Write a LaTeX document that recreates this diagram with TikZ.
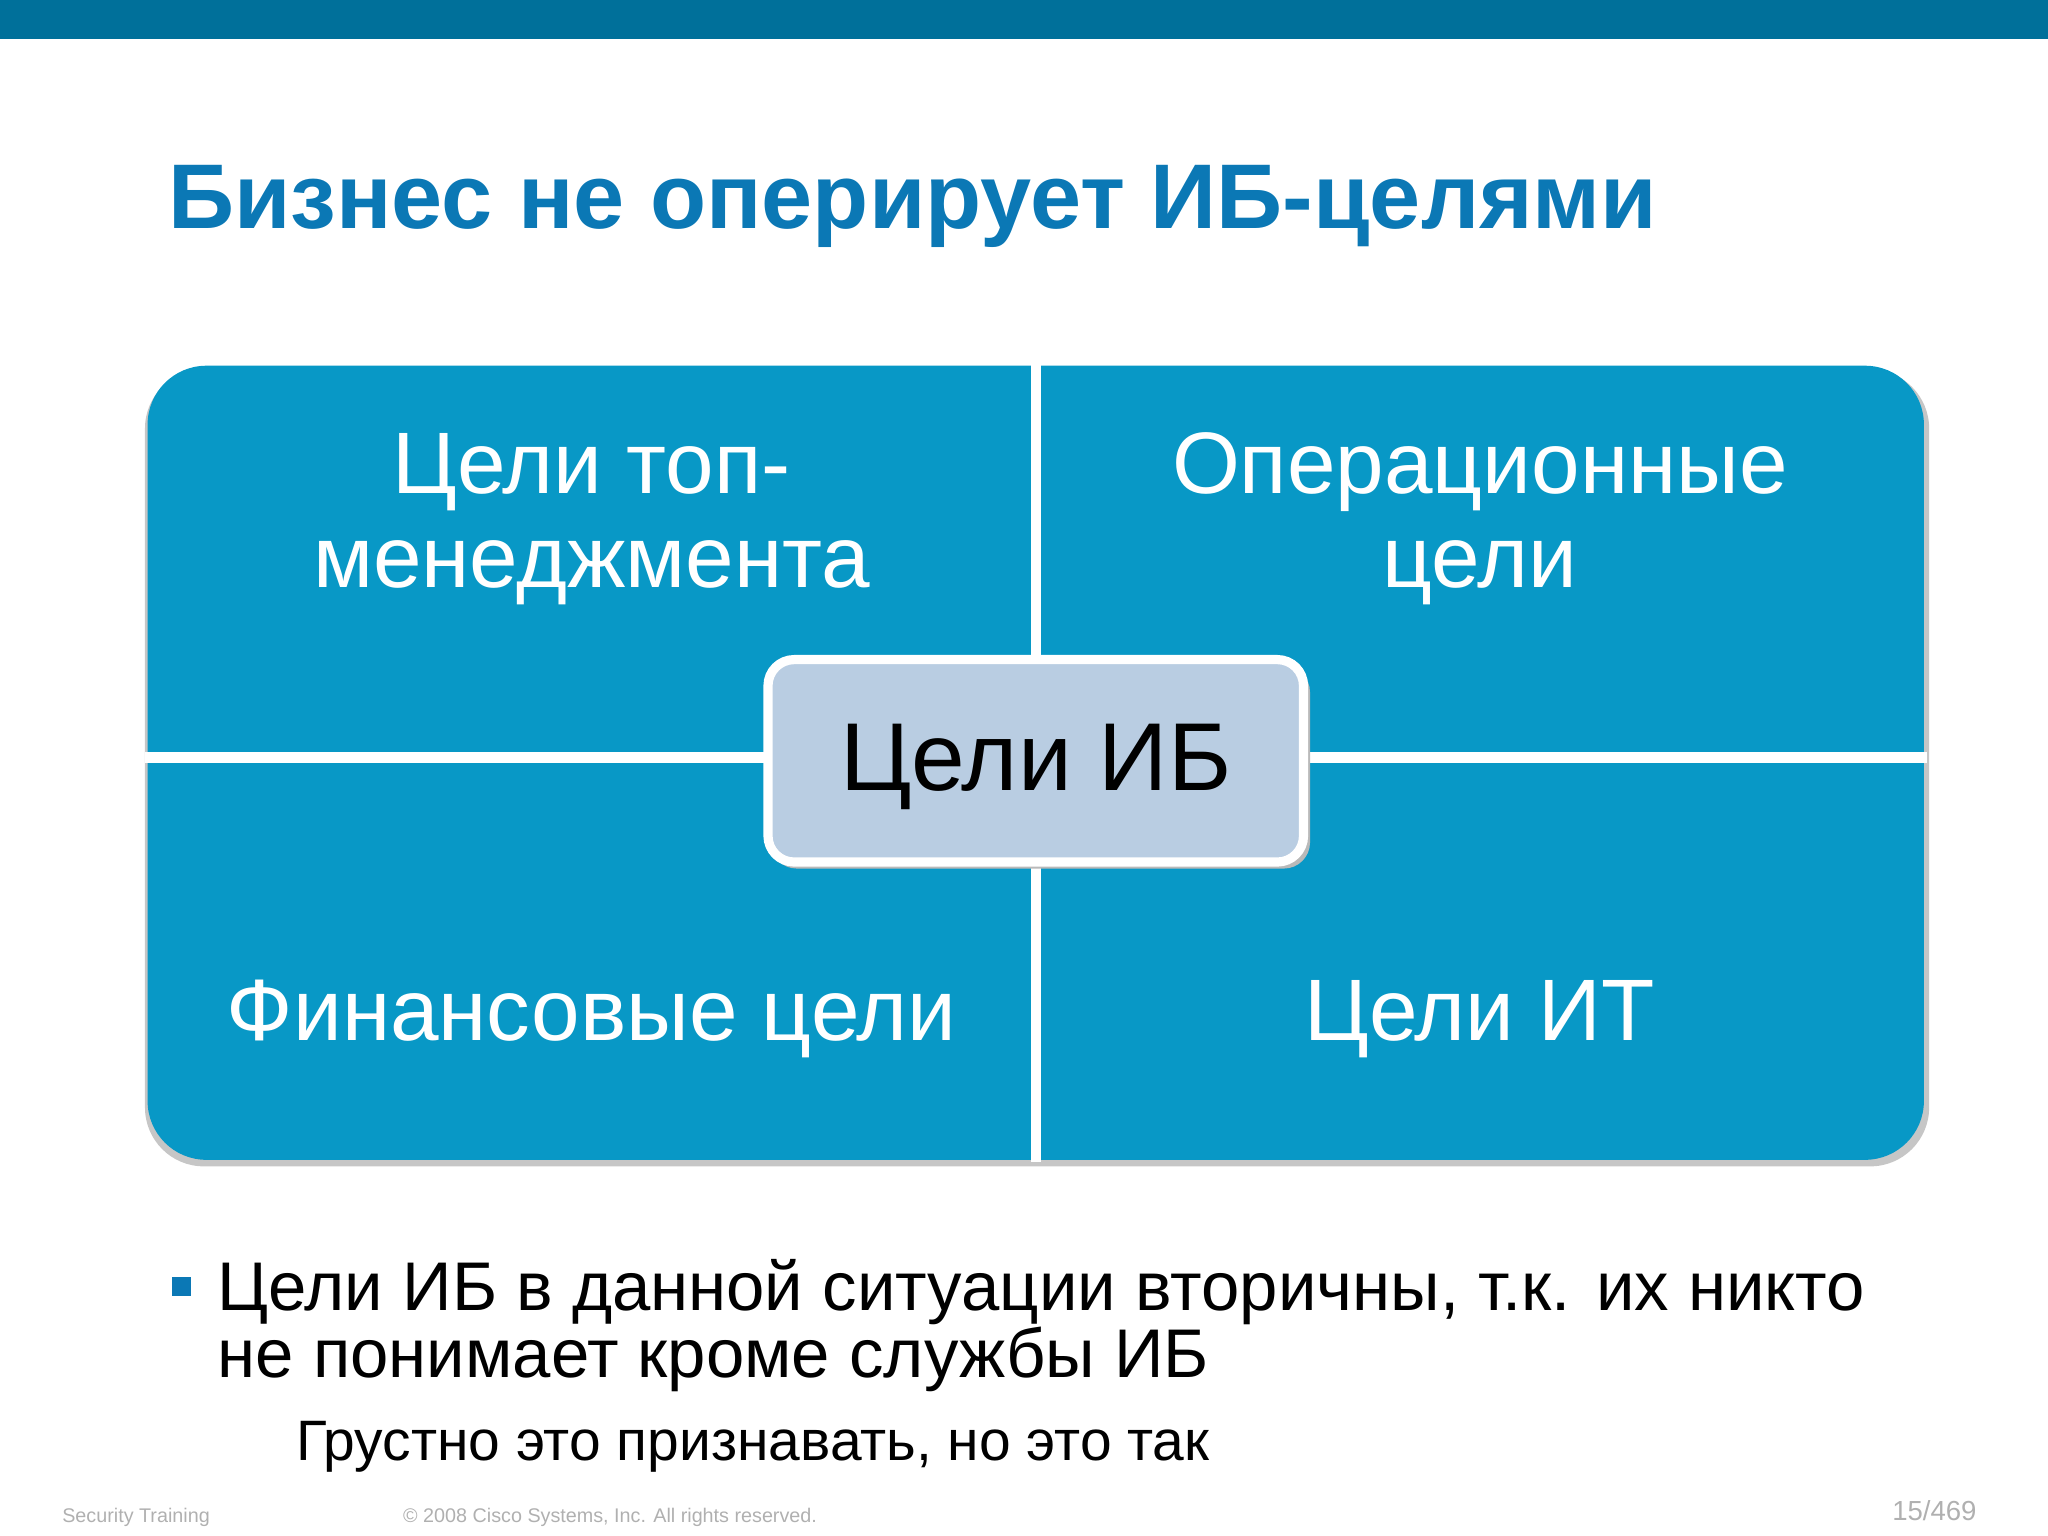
\documentclass[tikz,border=0pt]{standalone}
\usepackage{fontspec}
\setmainfont{Liberation Sans}
\definecolor{topbar}{HTML}{00709A}
\definecolor{titleblue}{HTML}{0B78B5}
\definecolor{quad}{HTML}{0898C6}
\definecolor{cbox}{HTML}{B9CDE2}
\definecolor{foot}{HTML}{B0B0B0}
\tikzset{qtext/.style={text=white,font=\fontsize{19pt}{21pt}\selectfont,align=center},
btext/.style={anchor=base west,inner sep=0,font=\fontsize{15pt}{17pt}\selectfont},
foottext/.style={text=foot,font=\fontsize{4.3pt}{5pt}\selectfont,anchor=base west}}
\begin{document}
\begin{tikzpicture}[x=0.01cm,y=-0.01cm]
\useasboundingbox (0,0) rectangle (1568,1176);
\fill[topbar] (0,0) rectangle (1568,30);
\node[anchor=base west,inner sep=0,text=titleblue,font=\bfseries\fontsize{20pt}{24pt}\selectfont] (title) at (128,175) {Бизнес не оперирует ИБ-целями};
% quad
\fill[gray!45,rounded corners=0.45cm] (111,283) rectangle (1477,893);
\fill[quad,rounded corners=0.45cm] (113,280) rectangle (1473,888);
\draw[white,line width=2.2pt] (793,278) -- (793,890) (111,580) -- (1475,580);
\node[qtext,anchor=base] (tl) at (453,378) {Цели топ-};
\node[qtext,anchor=base] (tl2) at (453,450) {менеджмента};
\node[qtext,anchor=base] (tr) at (1133,378) {Операционные};
\node[qtext,anchor=base] (tr2) at (1133,450) {цели};
\node[qtext,anchor=base] (bl) at (453,797) {Финансовые цели};
\node[qtext,anchor=base] (br) at (1133,797) {Цели ИТ};
\fill[gray!55,rounded corners=0.2cm] (590,510) rectangle (1003,665);
\draw[white,line width=2pt,fill=cbox,rounded corners=0.2cm] (588,505) rectangle (998,660);
\node[font=\fontsize{21pt}{24pt}\selectfont,anchor=base] (ib) at (793,605) {Цели ИБ};
% bullet
\fill[titleblue] (132,978) rectangle (146,992);
\node[btext] (b1) at (166,1003) {Цели ИБ в данной ситуации вторичны, т.к. их никто};
\node[btext] (b1b) at (166,1055) {не понимает кроме службы ИБ};
\node[anchor=base west,inner sep=0,font=\fontsize{12.4pt}{14pt}\selectfont] (b2) at (226,1118) {Грустно это признавать, но это так};
\node[foottext,inner sep=0] (f1) at (47,1166) {Security Training};
\node[foottext,inner sep=0] (f2) at (308,1166) {© 2008 Cisco Systems, Inc. All rights reserved.};
\node[foottext,inner sep=0,anchor=base east,font=\fontsize{6pt}{7pt}\selectfont] (f3) at (1514,1164) {15/469};
\end{tikzpicture}
\end{document}
